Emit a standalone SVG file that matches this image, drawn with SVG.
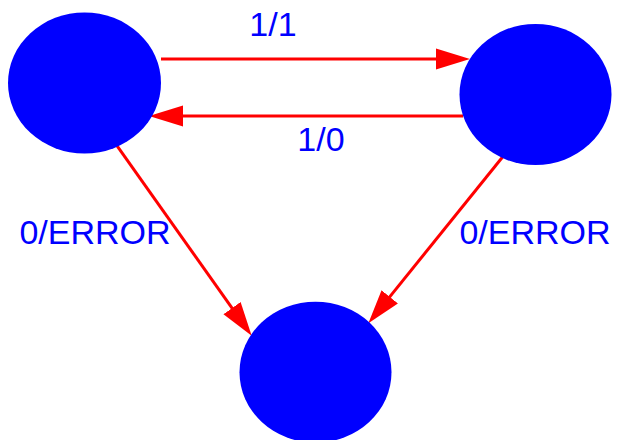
<svg xmlns="http://www.w3.org/2000/svg" width="617" height="440" viewBox="0 0 617 440">
  <style>
    .state { fill: #0000ff; }
    .edge { fill: none; stroke: #ff0000; stroke-width: 3; marker-end: url(#head); }
    .label { fill: #0000ff; font-family: "Liberation Sans", Arial, sans-serif; font-size: 34px; text-anchor: middle; }
  </style>
  <defs>
    <marker id="head" markerUnits="userSpaceOnUse" viewBox="0 -11 35 22" markerWidth="35" markerHeight="22" refX="1" refY="0" orient="auto">
      <path d="M0,-10.5 L34,0 L0,10.5 z" fill="#ff0000"/>
    </marker>
  </defs>
  <rect width="617" height="440" fill="#ffffff"/>

  <g id="connectors">
    <path class="edge" d="M161,59 L437,59"/>
    <path class="edge" d="M463,116 L182,116"/>
    <path class="edge" d="M114.6,142.3 L232.6,308.9"/>
    <path class="edge" d="M505,154 L389.1,297.6"/>
    <text class="label" x="273" y="36">1/1</text>
    <text class="label" x="321" y="150.5">1/0</text>
    <text class="label" x="95" y="244">0/ERROR</text>
    <text class="label" x="535" y="244">0/ERROR</text>
  </g>

  <g id="s0">
    <ellipse class="state" cx="84.5" cy="83" rx="76.5" ry="70.5"/>
  </g>
  <g id="s1">
    <ellipse class="state" cx="535.5" cy="94.5" rx="76" ry="70.5"/>
  </g>
  <g id="s2">
    <ellipse class="state" cx="315.5" cy="372.2" rx="76" ry="70.5"/>
  </g>
</svg>
